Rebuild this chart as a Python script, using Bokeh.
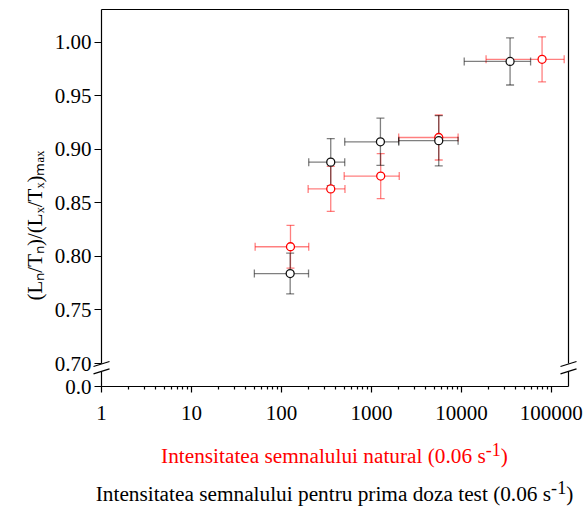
from bokeh.plotting import figure
from bokeh.models import (ColumnDataSource, Whisker, TeeHead, FixedTicker, NumeralTickFormatter,
                          CustomJSTickFormatter, Range1d, Title, Div)
from bokeh.layouts import column
from bokeh.embed import file_html
from bokeh.resources import INLINE

# ---- data ----
natural_x = [126, 353, 1268, 5600, 78800]
natural_x_err = [75, 155, 770, 3590, 60000]
natural_y = [0.809, 0.863, 0.875, 0.911, 0.984]
natural_y_err = [0.020, 0.021, 0.021, 0.021, 0.021]

testdose_x = [125, 353, 1259, 5600, 34750]
testdose_x_err = [75, 152, 754, 3590, 24000]
testdose_y = [0.784, 0.888, 0.907, 0.908, 0.982]
testdose_y_err = [0.019, 0.022, 0.022, 0.0235, 0.022]

x_major_ticks = [1, 10, 100, 1000, 10000, 100000]
y_major_ticks = [0.70, 0.75, 0.80, 0.85, 0.90, 0.95, 1.00]
y_break_label = "0.0"

x_label_natural = ("Intensitatea semnalului natural (0.06 s", "-1", ")")
x_label_test = ("Intensitatea semnalului pentru prima doza test (0.06 s", "-1", ")")
y_label = "(L\u2099/T\u2099)/(L\u2093/T\u2093)\u2098\u2090\u2093"

# ---- layout constants ----
W, H = 586, 437
FL, FR, FT = 101, 18, 9
frame_h = 377
FB = H - FT - frame_h
x_lo, x_hi = 1, 155000
y_hi = 1.0305
px_y = 0.05 / 53.6
y_zero_disp = 0.70 - 23 * px_y      # where the broken-axis "0.0" sits
y_lo = y_zero_disp
FONT = "Liberation Serif"

p = figure(width=W, height=H, x_axis_type="log", output_backend="svg", toolbar_location=None,
           x_range=Range1d(x_lo, x_hi), y_range=Range1d(y_lo, y_hi),
           min_border_left=FL, min_border_right=FR, min_border_top=FT, min_border_bottom=FB)
p.outline_line_color = None
p.grid.visible = False
p.background_fill_color = "white"
p.border_fill_color = "white"

# x axis
xa = p.xaxis[0]
minor = [k * 10 ** d for d in range(0, 6) for k in range(2, 10)]
xa.ticker = FixedTicker(ticks=x_major_ticks, minor_ticks=minor)
xa.formatter = NumeralTickFormatter(format="0")
xa.axis_line_color = "black"
xa.axis_line_width = 1.2
xa.major_tick_in = 0
xa.major_tick_out = 6
xa.minor_tick_in = 0
xa.minor_tick_out = 3
xa.major_tick_line_width = 1.2
xa.minor_tick_line_width = 1.2
xa.major_label_text_font = FONT
xa.major_label_text_font_size = "21px"
xa.major_label_text_color = "black"
xa.major_label_standoff = 13

# y axis
ya = p.yaxis[0]
ya.ticker = FixedTicker(ticks=[y_zero_disp] + y_major_ticks)
ya.formatter = CustomJSTickFormatter(args=dict(brk=y_zero_disp + 0.005, lab=y_break_label),
                                     code="return tick < brk ? lab : tick.toFixed(2);")
ya.axis_line_color = None
ya.major_tick_in = 0
ya.major_tick_out = 7
ya.major_tick_line_width = 1.2
ya.minor_tick_line_color = None
ya.major_label_text_font = FONT
ya.major_label_text_font_size = "21px"
ya.major_label_text_color = "black"
ya.major_label_standoff = 3

# y axis title
p.add_layout(Title(text=y_label, align="left", text_font=FONT, text_font_size="21px",
                   text_font_style="normal", text_color="black", standoff=9, offset=86), "left")


def series(xs, xe, ys, ye, color, edge):
    src = ColumnDataSource(dict(
        x=xs, y=ys,
        xl=[a - b for a, b in zip(xs, xe)], xu=[a + b for a, b in zip(xs, xe)],
        yl=[a - b for a, b in zip(ys, ye)], yu=[a + b for a, b in zip(ys, ye)]))
    for dim, lo, hi, base in (("width", "xl", "xu", "y"), ("height", "yl", "yu", "x")):
        w = Whisker(source=src, base=base, lower=lo, upper=hi, dimension=dim,
                    line_color=color, line_alpha=0.5, line_width=1.3,
                    upper_head=TeeHead(size=8, line_color=color, line_alpha=0.5, line_width=1.3),
                    lower_head=TeeHead(size=8, line_color=color, line_alpha=0.5, line_width=1.3))
        p.add_layout(w)
    return src, edge


src_n, edge_n = series(natural_x, natural_x_err, natural_y, natural_y_err, "#ff0000", "#ff0000")
src_t, edge_t = series(testdose_x, testdose_x_err, testdose_y, testdose_y_err, "#000000", "#111111")
p.scatter("x", "y", source=src_n, marker="circle", size=8, fill_color="white",
          line_color=edge_n, line_width=1.3)
p.scatter("x", "y", source=src_t, marker="circle", size=8, fill_color="white",
          line_color=edge_t, line_width=1.3)

# frame with axis breaks on left and right sides
gap_top = 0.70 - 0 * px_y
gap_bot = 0.70 - 8.5 * px_y
p.segment(x0=[x_lo, x_lo, x_lo, x_hi, x_hi], y0=[y_hi, y_hi, gap_bot, y_hi, gap_bot],
          x1=[x_hi, x_lo, x_lo, x_hi, x_hi], y1=[y_hi, gap_top, y_lo, gap_top, y_lo],
          line_color="black", line_width=1.2, level="overlay")
# break slashes
dec_per_px = 1 / 90.0
hw = 8 * dec_per_px
sx0, sy0, sx1, sy1 = [], [], [], []
for xcen in (x_lo, x_hi):
    for dy in (-0.5, -7.8):
        yc = 0.70 + dy * px_y
        sx0.append(xcen * 10 ** (-hw)); sx1.append(xcen * 10 ** hw)
        sy0.append(yc - 2.5 * px_y); sy1.append(yc + 2.5 * px_y)
p.segment(x0=sx0, y0=sy0, x1=sx1, y1=sy1, line_color="black", line_width=1.2, level="overlay")

# x-axis titles (two coloured lines, centred under the frame)
center_x = FL + (W - FL - FR) / 2
box_w = 2 * (W - center_x)
sup_style = "font-size:0.85em;line-height:0;vertical-align:7px;"


def line_html(parts, color):
    main, sup, tail = parts
    return (f'<div style="color:{color};">{main}<sup style="{sup_style}">{sup}</sup>{tail}</div>')


html = (f'<div style="margin-left:{W - box_w:.0f}px;width:{box_w:.0f}px;text-align:center;'
        f'white-space:nowrap;font-family:\'{FONT}\';font-size:21.3px;line-height:38px;">'
        + line_html(x_label_natural, "#ff0000") + line_html(x_label_test, "#000000") + '</div>')
div = Div(text=html, width=W, height=508 - H, margin=(0, 0, 0, 0))

open("out.html", "w").write(file_html(column(p, div, spacing=0), INLINE))
